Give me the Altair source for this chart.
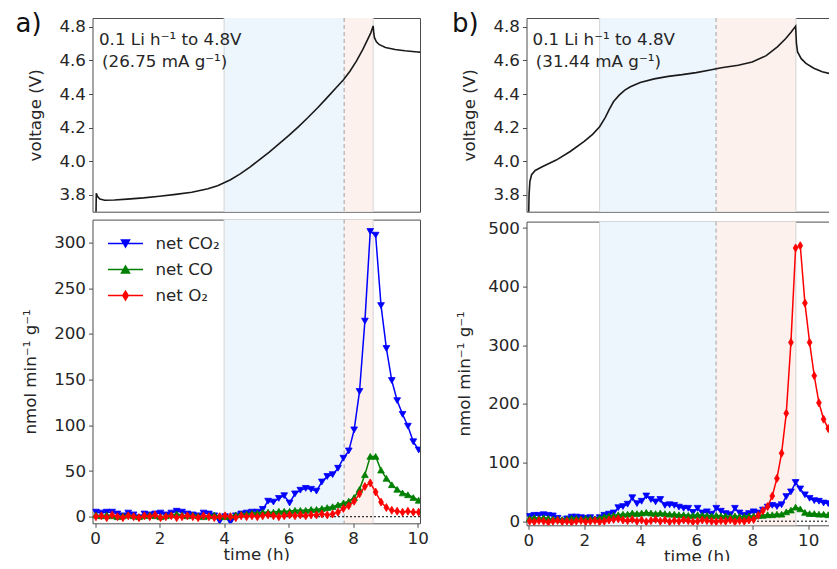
import altair as alt
import pandas as pd

FONT = "DejaVu Sans"
FS = 16.7
INK = "#262626"
FRAME = "#4d4d4d"
BLUE_BAND = "#edf5fd"
RED_BAND = "#fdf1ee"
EDGE = "#d4d4d4"
DASH = "#a0a0a0"
COLORS = ["#0000ff", "#008000", "#ff0000"]
SERIES = ["net CO\u2082", "net CO", "net O\u2082"]

# ---------------- data ----------------
# voltage profiles (time h, V)
va_t = [0.02, 0.04, 0.08, 0.15, 0.3, 0.6, 1.0, 1.5, 2.0, 2.5, 3.0, 3.5, 3.8, 4.0, 4.2, 4.5,
        4.8, 5.1, 5.4, 5.7, 6.0, 6.3, 6.6, 6.9, 7.2, 7.5, 7.7, 7.9, 8.1, 8.3, 8.45, 8.55,
        8.62, 8.64, 8.66, 8.72, 8.8, 9.0, 9.3, 9.6, 10.0, 10.1]
va_v = [3.55, 3.81, 3.79, 3.775, 3.768, 3.77, 3.775, 3.782, 3.792, 3.803, 3.816, 3.836, 3.855,
        3.872, 3.89, 3.925, 3.965, 4.01, 4.055, 4.103, 4.152, 4.205, 4.26, 4.318, 4.38, 4.443,
        4.485, 4.535, 4.595, 4.665, 4.725, 4.765, 4.805, 4.76, 4.735, 4.71, 4.695, 4.677, 4.665,
        4.657, 4.65, 4.649]
vb_t = [0.0, 0.03, 0.06, 0.12, 0.25, 0.5, 1.0, 1.5, 2.0, 2.3, 2.55, 2.75, 2.9, 3.05, 3.25,
        3.45, 3.65, 4.0, 4.5, 5.0, 5.5, 6.0, 6.5, 6.9, 7.5, 8.0, 8.5, 8.9, 9.2, 9.4, 9.55,
        9.58, 9.62, 9.75, 9.92, 10.2, 10.5, 10.8, 11.1, 11.5]
vb_v = [3.55, 3.80, 3.88, 3.92, 3.945, 3.967, 4.007, 4.058, 4.118, 4.16, 4.205, 4.26, 4.31,
        4.355, 4.393, 4.423, 4.443, 4.468, 4.49, 4.505, 4.515, 4.527, 4.543, 4.556, 4.571,
        4.59, 4.628, 4.68, 4.73, 4.77, 4.803, 4.70, 4.65, 4.61, 4.582, 4.553, 4.532, 4.52,
        4.512, 4.505]

# gas evolution, one sample every 10 min (nmol min^-1 g^-1)
ga_start = 0.03
gb_start = 0.05
co2_a = [5, 4, 5, 5, 3, 1, 4, 2, -1, 3, 2, 3, 4, 2, 4, 6, 5, 3, 2, 1, 4, 3, 1, -5, 0, -6, 1, 3,
         4, 5, 5, 8, 17, 16, 20, 23, 15, 25, 29, 31, 30, 28, 38, 44, 46, 53, 64, 72, 95, 137,
         214, 312, 308, 231, 184, 149, 127, 112, 99, 82, 73]
co_a = [2, 1, 2, 1, 0, 1, 2, 1, 0, 1, 2, 1, 0, 1, 2, 3, 2, 1, 2, 1, 0, 1, 2, 1, 0, 1, 2,
        3, 3, 4, 4, 5, 5, 5, 6, 6, 6, 7, 7, 7, 8, 8, 9, 10, 11, 13, 15, 17, 21, 30, 46, 66,
        66, 51, 42, 35, 30, 26, 24, 21, 18]
o2_a = [0, 1, -1, 2, 0, -1, 1, 0, -1, 1, 0, 2, -1, 0, 1, -1, 0, 1, 0, -1, 1, 0, -1, 0, 1, 0,
        -1, 1, 0, 1, 0, 1, 2, 1, 0, 1, 2, 1, 2, 1, 2, 2, 3, 2,
        3, 5, 9, 12, 17, 25, 33, 37, 27, 16, 10, 7, 6, 5, 6, 5, 5]
co2_b = [8, 10, 10, 11, 10, 9, 5, 0, 4, 7, 7, 6, 5, 6, 2,
         6, 10, 12, 14, 23, 25, 29, 40, 30, 34, 43, 37, 33, 37, 27, 28,
         27, 24, 22, 22, 15, 22, 14, 16, 12, 22, 17, 13, 11, 22, 14, 10,
         13, 16, 14, 19, 24, 27, 25, 28, 42, 50, 66, 55, 45, 39, 35, 34, 31, 30, 27, 38, 33]
co_b = [5, 6, 5, 6, 5, 4, 4, 3, 4, 5, 5, 4, 5, 5, 4,
        6, 8, 9, 10, 11, 12, 12, 14, 13, 14, 15, 14, 13, 14, 13, 12,
        12, 11, 11, 10, 10, 11, 10, 10, 9, 10, 9, 9, 8, 9, 8, 8,
        9, 9, 10, 10, 11, 11, 12, 12, 16, 19, 24, 21, 15, 13, 13, 12, 12, 11, 11, 12, 12]
o2_b = [0, -1, 1, 0, -2, 0, 1, -1, 0, -2, 0, 1, -1, 0, 1, -1, 0, 2, 3, 4, 2, 1, 3, 0, 2, -1,
        1, 3, 0, 2, -1, 1, 0, 2, 1, -1, 0, 2, 1, 0, -1, 1, 0, 2, -1, 1, 0, 2, 3,
        10, 18, 25, 43, 73, 116, 184, 305, 466, 470, 372, 305, 248, 202, 174, 158, 137, 120, 108]

# shaded regions (start, boundary, end) in h
band_a = [4.0, 7.72, 8.62]
band_b = [2.55, 6.71, 9.56]

notes_a = ["0.1 Li h\u207b\u00b9 to 4.8V", "(26.75 mA g\u207b\u00b9)"]
notes_b = ["0.1 Li h\u207b\u00b9 to 4.8V", "(31.44 mA g\u207b\u00b9)"]
notes_a_t = [0.124, 0.22]
notes_b_t = [0.154, 0.27]
notes_v = [4.694, 4.563]
tag_v = 4.768
tag_a_t = -2.464
tag_b_t = -2.722

# ---------------- layout ----------------
W_A, W_B = 327.5, 340.5
H_V, H_G = 193.7, 303.7
PAGE_W, PAGE_H = 821, 553
PAD_L, PAD_T = 84.5, 10


def lin(dom):
    return alt.Scale(domain=dom, nice=False, zero=False)


XA = lin([-0.0775, 10.071])
XB = lin([-0.061, 12.1])
YV = lin([3.70, 4.852])
YGA = lin([-7.2, 325])
YGB = lin([-7, 511])

# legend glyphs: a line with the marker on it (unit = 10 px)
PATH_DOWN = "M-1.75,0L1.75,0M-0.4,-0.35L0.4,-0.35L0,0.35Z"
PATH_UP = "M-1.75,0L1.75,0M-0.4,0.35L0.4,0.35L0,-0.35Z"
PATH_DIAM = "M-1.75,0L1.75,0M0,-0.45L0.27,0L0,0.45L-0.27,0Z"
THIN_DIAMOND = "M0,-1L0.6,0L0,1L-0.6,0Z"
SHAPES = ["triangle-down", "triangle-up", THIN_DIAMOND]
SIZES = [45, 45, 64]


def y_axis(title, values, fmt):
    return alt.Axis(title=title, values=values, format=fmt, grid=False, domain=False,
                    tickSize=4, labelPadding=3, titlePadding=14)


X_AXIS = alt.Axis(title="time (h)", values=[0, 2, 4, 6, 8, 10], format="d", grid=False,
                  domain=False, tickSize=4, labelPadding=3, titlePadding=-1)


def band_layers(band, X):
    d = pd.DataFrame({"a": [band[0]], "b": [band[1]], "c": [band[2]]})
    base = alt.Chart(d)
    return [
        base.mark_rect(color=BLUE_BAND).encode(x=X("a"), x2="b:Q"),
        base.mark_rect(color=RED_BAND).encode(x=X("b"), x2="c:Q"),
        base.mark_rule(color=EDGE, strokeWidth=1).encode(x=X("a")),
        base.mark_rule(color=EDGE, strokeWidth=1).encode(x=X("c")),
        base.mark_rule(color=DASH, strokeWidth=1, strokeDash=[4, 3]).encode(x=X("b")),
    ]


def volt_panel(t, v, xs, width, band, notes, notes_t, tag, tag_t):
    def X(f):
        return alt.X(f"{f}:Q", scale=xs, axis=None)

    def Y(f):
        return alt.Y(f"{f}:Q", scale=YV,
                     axis=y_axis("voltage (V)", [3.8, 4.0, 4.2, 4.4, 4.6, 4.8], ".1f"))

    layers = band_layers(band, X)
    line = alt.Chart(pd.DataFrame({"t": t, "v": v})).mark_line(
        color="#1a1a1a", strokeWidth=1.6, clip=True).encode(x=X("t"), y=Y("v"))
    ann = alt.Chart(pd.DataFrame({"t": notes_t, "v": notes_v, "s": notes})).mark_text(
        align="left", baseline="alphabetic", font=FONT, fontSize=FS, color=INK
    ).encode(x=X("t"), y=Y("v"), text="s:N")
    tagc = alt.Chart(pd.DataFrame({"t": [tag_t], "v": [tag_v], "s": [tag]})).mark_text(
        align="left", baseline="alphabetic", font=FONT, fontSize=26, color="#111111"
    ).encode(x=X("t"), y=Y("v"), text="s:N")
    return alt.layer(*layers, line, ann, tagc).properties(width=width, height=H_V)


def gas_panel(start, series, xs, ys, width, band, yvals, legend):
    def X(f):
        return alt.X(f"{f}:Q", scale=xs, axis=X_AXIS)

    def Y(f):
        return alt.Y(f"{f}:Q", scale=ys,
                     axis=y_axis("nmol min\u207b\u00b9 g\u207b\u00b9", yvals, "d"))

    layers = band_layers(band, X)
    layers.append(alt.Chart(pd.DataFrame({"z": [0]})).mark_rule(
        color="#000000", strokeWidth=1, strokeDash=[2, 2]).encode(y=Y("z")))
    for vals, color, shape, size in zip(series, COLORS, SHAPES, SIZES):
        df = pd.DataFrame({"t": [round(start + k / 6, 4) for k in range(len(vals))],
                           "v": vals})
        base = alt.Chart(df).encode(x=X("t"), y=Y("v"))
        layers.append(base.mark_line(color=color, strokeWidth=1.5, clip=True))
        layers.append(base.mark_point(shape=shape, filled=True, fill=color, stroke=color,
                                      strokeWidth=0.8, size=size, opacity=1, clip=True))
    if legend:
        leg = alt.Legend(title=None, orient="none", legendX=22, legendY=13,
                         symbolSize=400, symbolStrokeWidth=1.5, labelFont=FONT,
                         labelFontSize=FS, labelColor=INK, labelOffset=19, rowPadding=6,
                         padding=0, symbolOpacity=1)
        ldf = pd.DataFrame({"series": SERIES, "t": [0, 0, 0], "v": [0, 0, 0]})
        layers.append(alt.Chart(ldf).transform_filter("false").mark_point(
            filled=True, opacity=1, strokeWidth=1.5).encode(
            x=X("t"), y=Y("v"),
            color=alt.Color("series:N", scale=alt.Scale(domain=SERIES, range=COLORS), legend=leg),
            stroke=alt.Stroke("series:N", scale=alt.Scale(domain=SERIES, range=COLORS), legend=leg),
            shape=alt.Shape("series:N", scale=alt.Scale(domain=SERIES,
                                                        range=[PATH_DOWN, PATH_UP, PATH_DIAM]),
                            legend=leg),
        ))
    return alt.layer(*layers).properties(width=width, height=H_G)


va = volt_panel(va_t, va_v, XA, W_A, band_a, notes_a, notes_a_t, "a)", tag_a_t)
vb = volt_panel(vb_t, vb_v, XB, W_B, band_b, notes_b, notes_b_t, "b)", tag_b_t)
ga = gas_panel(ga_start, [co2_a, co_a, o2_a], XA, YGA, W_A, band_a,
               [0, 50, 100, 150, 200, 250, 300], True)
gb = gas_panel(gb_start, [co2_b, co_b, o2_b], XB, YGB, W_B, band_b,
               [0, 100, 200, 300, 400, 500], False)

indep = dict(color="independent", stroke="independent", shape="independent")
col_a = alt.vconcat(va, ga, spacing=5.6).resolve_legend(**indep)
col_b = alt.vconcat(vb, gb, spacing=5.6).resolve_legend(**indep)

chart = alt.hconcat(col_a, col_b, spacing=21).resolve_legend(**indep).properties(
    autosize=alt.AutoSizeParams(type="none"),
    padding={"left": PAD_L, "top": PAD_T, "right": PAGE_W - PAD_L, "bottom": PAGE_H - PAD_T},
    background="white",
).configure_axis(
    labelFont=FONT, titleFont=FONT, labelFontSize=FS, titleFontSize=FS,
    labelColor=INK, titleColor=INK, titleFontWeight="normal",
    tickColor=FRAME, tickWidth=1,
).configure_view(stroke=FRAME, strokeWidth=1)

chart.save("out.html", embed_options={"renderer": "svg", "actions": False})
